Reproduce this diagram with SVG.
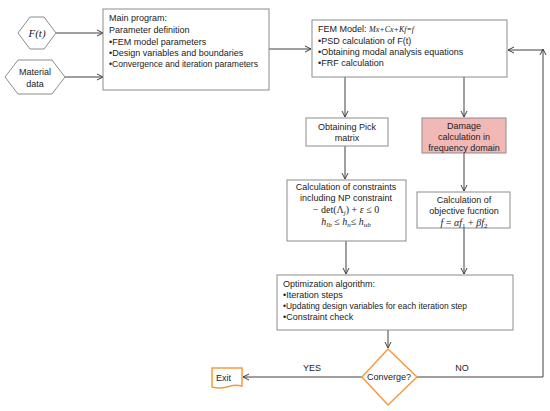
<svg xmlns="http://www.w3.org/2000/svg" width="550" height="411" viewBox="0 0 550 411">
<defs>
<marker id="ah" markerWidth="8" markerHeight="8" refX="7" refY="4" orient="auto" markerUnits="userSpaceOnUse">
<path d="M1,1 L7,4 L1,7" fill="none" stroke="#404040" stroke-width="1"/>
</marker>
</defs>
<style>
.box{fill:#fff;stroke:#8c8c8c;stroke-width:1}
.pink{fill:#f2b8b6;stroke:#8c8c8c;stroke-width:1}
.or{fill:#fff;stroke:#f79a3e;stroke-width:1.5}
.t{font-family:"Liberation Sans",Arial,sans-serif;font-size:9px;fill:#222}
.c{text-anchor:middle}
.m{font-family:"Liberation Serif","Times New Roman",serif;fill:#222}
.ln{fill:none;stroke:#404040;stroke-width:1}
.ar{fill:none;stroke:#404040;stroke-width:1;marker-end:url(#ah)}
</style>
<g id="connectors">
<path class="ar" d="M56,33 H103"/>
<path class="ar" d="M65,77 H103"/>
<path class="ar" d="M269,49 H311"/>
<path class="ar" d="M345,77 V117"/>
<path class="ar" d="M464,77 V117"/>
<path class="ar" d="M345,146 V179"/>
<path class="ar" d="M464,153 V191"/>
<path class="ar" d="M346,241 V274"/>
<path class="ar" d="M464,228 V274"/>
<path class="ar" d="M388,330 V348"/>
<path class="ar" d="M362,377 H243"/>
<path class="ar" d="M417,377 H543 V49"/>
<path class="ar" d="M543,50 H508"/>
</g>
<g id="Ft">
<polygon class="box" points="18,33 30,17 44,17 56,33 44,49 30,49"/>
<text class="m" x="37" y="37" text-anchor="middle" font-size="11" font-style="italic">F(t)</text>
</g>
<g id="material">
<polygon class="box" points="5,77 18,60 52,60 65,77 52,94 18,94"/>
<text class="t c" x="35" y="75">Material</text>
<text class="t c" x="35" y="87">data</text>
</g>
<g id="main">
<rect class="box" x="103" y="9" width="166" height="81"/>
<text class="t" x="109" y="21">Main program:</text>
<text class="t" x="109" y="33">Parameter definition</text>
<text class="t" x="109" y="45">•FEM model parameters</text>
<text class="t" x="109" y="56">•Design variables and boundaries</text>
<text class="t" x="109" y="67" textLength="149" lengthAdjust="spacingAndGlyphs">•Convergence and iteration parameters</text>
</g>
<g id="fem">
<rect class="box" x="312" y="20" width="195" height="57"/>
<text class="t" x="318" y="32">FEM Model: <tspan class="m" font-style="italic" font-size="8">Mx+Cx+Kf=f</tspan></text>
<text class="t" x="318" y="44">•PSD calculation of F(t)</text>
<text class="t" x="318" y="55">•Obtaining modal analysis equations</text>
<text class="t" x="318" y="66">•FRF calculation</text>
</g>
<g id="pick">
<rect class="box" x="306" y="118" width="82" height="28"/>
<text class="t c" x="347" y="130">Obtaining Pick</text>
<text class="t c" x="347" y="141">matrix</text>
</g>
<g id="damage">
<rect class="pink" x="422" y="118" width="84" height="35"/>
<text class="t c" x="464" y="129">Damage</text>
<text class="t c" x="464" y="140">calculation in</text>
<text class="t c" x="464" y="151">frequency domain</text>
</g>
<g id="constraints">
<rect class="box" x="287" y="180" width="119" height="61"/>
<text class="t c" x="346" y="190">Calculation of constraints</text>
<text class="t c" x="346" y="201">including NP constraint</text>
<text class="m c" x="346" y="213" font-size="10">− det(Λ<tspan font-style="italic" font-size="7" dy="2">j</tspan><tspan dy="-2">) + </tspan><tspan font-style="italic">ε</tspan> ≤ 0</text>
<text class="m c" x="346" y="225" font-size="10"><tspan font-style="italic">h</tspan><tspan font-style="italic" font-size="7" dy="2">lb</tspan><tspan dy="-2"> ≤ </tspan><tspan font-style="italic">h</tspan><tspan font-style="italic" font-size="7" dy="2">n</tspan><tspan dy="-2">≤ </tspan><tspan font-style="italic">h</tspan><tspan font-style="italic" font-size="7" dy="2">ub</tspan></text>
</g>
<g id="objective">
<rect class="box" x="417" y="192" width="93" height="36"/>
<text class="t c" x="464" y="203">Calculation of</text>
<text class="t c" x="464" y="214">objective fucntion</text>
<text class="m c" x="464" y="226" font-size="10"><tspan font-style="italic">f</tspan> = <tspan font-style="italic">αf</tspan><tspan font-size="7" dy="2">1</tspan><tspan dy="-2"> + </tspan><tspan font-style="italic">βf</tspan><tspan font-size="7" dy="2">2</tspan></text>
</g>
<g id="optimization">
<rect class="box" x="277" y="275" width="236" height="55"/>
<text class="t" x="283" y="287">Optimization algorithm:</text>
<text class="t" x="283" y="298">•Iteration steps</text>
<text class="t" x="283" y="309" textLength="184" lengthAdjust="spacingAndGlyphs">•Updating design variables for each iteration step</text>
<text class="t" x="283" y="320">•Constraint check</text>
</g>
<g id="converge">
<polygon class="or" points="388,349 417,377 388,405 362,377"/>
<text class="t c" x="389" y="380">Converge?</text>
</g>
<g id="exit">
<path class="or" d="M212,368 H242 V386 Q234,384 227,387 Q219,389 212,387 Z"/>
<text class="t" x="216" y="381">Exit</text>
</g>
<g id="labels">
<text class="t c" x="312" y="371">YES</text>
<text class="t c" x="462" y="371">NO</text>
</g>
</svg>
